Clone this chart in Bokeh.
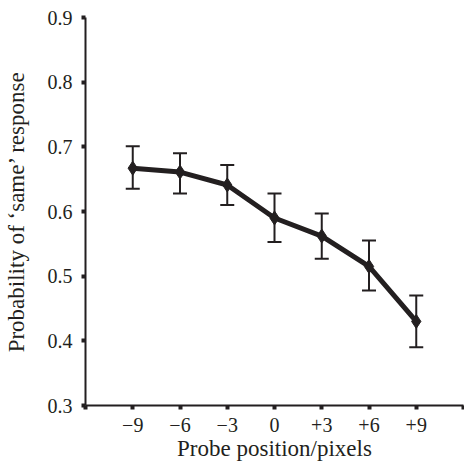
from bokeh.plotting import figure
from bokeh.models import ColumnDataSource, Range1d, FixedTicker, Whisker, TeeHead
from bokeh.embed import file_html
from bokeh.resources import INLINE

# Data
positions = [-9, -6, -3, 0, 3, 6, 9]
prob_same = [0.667, 0.661, 0.641, 0.590, 0.562, 0.515, 0.430]
err_upper = [0.701, 0.690, 0.672, 0.628, 0.597, 0.555, 0.470]
err_lower = [0.635, 0.628, 0.610, 0.553, 0.527, 0.478, 0.390]

x_ticks = [-12, -9, -6, -3, 0, 3, 6, 9, 12]
x_tick_labels = ["", "\u22129", "\u22126", "\u22123", "0", "+3", "+6", "+9", ""]
y_ticks = [0.3, 0.4, 0.5, 0.6, 0.7, 0.8, 0.9]
y_tick_labels = ["0.3", "0.4", "0.5", "0.6", "0.7", "0.8", "0.9"]

INK = "#231f20"
FONT = "Liberation Serif"

source = ColumnDataSource(data=dict(x=positions, y=prob_same, upper=err_upper, lower=err_lower))

p = figure(width=464, height=463, output_backend="svg", toolbar_location=None,
           x_range=Range1d(-12, 12), y_range=Range1d(0.3, 0.9),
           min_border_left=81, min_border_right=1, min_border_top=17, min_border_bottom=56)

p.outline_line_color = None
p.grid.grid_line_color = None
p.background_fill_color = "white"
p.border_fill_color = "white"

p.xaxis.ticker = FixedTicker(ticks=x_ticks)
p.xaxis.major_label_overrides = {t: l for t, l in zip(x_ticks, x_tick_labels)}
p.yaxis.ticker = FixedTicker(ticks=y_ticks)
p.yaxis.major_label_overrides = {t: l for t, l in zip(y_ticks, y_tick_labels)}

for ax in (p.xaxis, p.yaxis):
    ax.axis_line_color = INK
    ax.axis_line_width = 2
    ax.major_tick_line_color = INK
    ax.major_tick_line_width = 4
    ax.major_tick_in = 0
    ax.major_tick_out = 4
    ax.minor_tick_line_color = None
    ax.major_label_text_font = FONT
    ax.major_label_text_font_size = "20px"
    ax.major_label_text_color = INK
    ax.axis_label_text_font = FONT
    ax.axis_label_text_font_size = "23px"
    ax.axis_label_text_font_style = "normal"
    ax.axis_label_text_color = INK

p.xaxis.axis_label = "Probe position/pixels"
p.yaxis.axis_label = "Probability of \u2018same\u2019 response"
p.xaxis.major_label_standoff = 8
p.xaxis.axis_label_standoff = 1
p.yaxis.major_label_standoff = 9
p.yaxis.axis_label_standoff = 16

whisk = Whisker(source=source, base="x", upper="upper", lower="lower",
                line_color=INK, line_width=2,
                upper_head=TeeHead(size=14, line_color=INK, line_width=2),
                lower_head=TeeHead(size=14, line_color=INK, line_width=2),
                level="underlay")
p.add_layout(whisk)

p.line("x", "y", source=source, line_color=INK, line_width=5)
p.scatter("x", "y", source=source, marker="diamond", size=14,
          fill_color=INK, line_color=INK)

open("out.html", "w").write(file_html(p, INLINE))
